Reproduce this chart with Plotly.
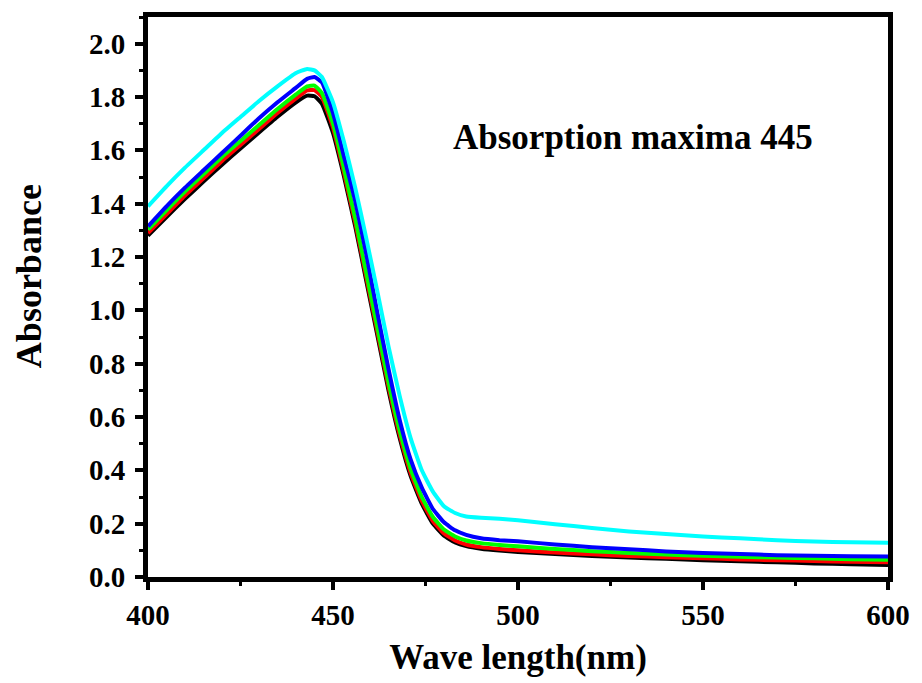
import plotly.graph_objects as go

wavelength = [400, 405, 410, 415, 420, 425, 430, 435, 440, 443, 445, 447, 450, 453, 456, 459,
              462, 465, 468, 471, 474, 477, 480, 483, 486, 490, 495, 500, 510, 520, 530, 540,
              550, 560, 570, 580, 590, 600]

black = [1.28, 1.35, 1.418, 1.483, 1.546, 1.607, 1.667, 1.726, 1.78, 1.805, 1.803, 1.775, 1.665,
         1.50, 1.315, 1.11, 0.905, 0.70, 0.522, 0.378, 0.275, 0.2, 0.155, 0.13, 0.116, 0.106,
         0.099, 0.094, 0.086, 0.079, 0.073, 0.068, 0.063, 0.059, 0.055, 0.051, 0.048, 0.045]
red = [1.29, 1.36, 1.43, 1.495, 1.56, 1.62, 1.68, 1.74, 1.795, 1.825, 1.826, 1.80, 1.685,
       1.515, 1.33, 1.125, 0.92, 0.715, 0.535, 0.39, 0.285, 0.21, 0.163, 0.137, 0.122, 0.112,
       0.105, 0.1, 0.092, 0.085, 0.079, 0.074, 0.07, 0.066, 0.063, 0.06, 0.057, 0.055]
green = [1.303, 1.375, 1.445, 1.51, 1.575, 1.635, 1.695, 1.755, 1.81, 1.84, 1.843, 1.815, 1.70,
         1.53, 1.345, 1.14, 0.935, 0.73, 0.55, 0.405, 0.30, 0.225, 0.178, 0.152, 0.137, 0.127,
         0.12, 0.115, 0.105, 0.097, 0.09, 0.084, 0.08, 0.076, 0.073, 0.07, 0.067, 0.065]
blue = [1.315, 1.39, 1.46, 1.525, 1.59, 1.655, 1.72, 1.78, 1.835, 1.868, 1.875, 1.855, 1.74,
        1.575, 1.41, 1.21, 0.99, 0.78, 0.59, 0.44, 0.335, 0.255, 0.205, 0.175, 0.158, 0.145,
        0.138, 0.134, 0.122, 0.112, 0.104, 0.096, 0.09, 0.086, 0.082, 0.08, 0.078, 0.077]
cyan = [1.39, 1.465, 1.535, 1.60, 1.665, 1.725, 1.785, 1.84, 1.89, 1.905, 1.90, 1.875, 1.78,
        1.63, 1.46, 1.27, 1.07, 0.865, 0.68, 0.52, 0.40, 0.32, 0.265, 0.24, 0.227, 0.222,
        0.218, 0.213, 0.198, 0.184, 0.171, 0.161, 0.152, 0.145, 0.138, 0.133, 0.13, 0.128]

series = [("black", black, "#000000"), ("red", red, "#ff0000"), ("green", green, "#00ff00"),
          ("blue", blue, "#0000ff"), ("cyan", cyan, "#00ffff")]

x_ticks = [400, 450, 500, 550, 600]
y_ticks = [0.0, 0.2, 0.4, 0.6, 0.8, 1.0, 1.2, 1.4, 1.6, 1.8, 2.0]

FONT = "Liberation Serif"

fig = go.Figure()
for name, vals, col in series:
    fig.add_trace(go.Scatter(x=wavelength, y=vals, mode="lines", name=name,
                             line=dict(color=col, width=4, shape="spline", smoothing=0.4),
                             showlegend=False))

axis_common = dict(showline=True, linecolor="black", linewidth=5, mirror=True,
                   ticks="outside", ticklen=8, tickwidth=4, tickcolor="black",
                   showgrid=False, zeroline=False,
                   tickfont=dict(family=FONT, size=29, color="black"))

fig.update_xaxes(range=[400, 600], tickvals=x_ticks, ticktext=[f"<b>{v}</b>" for v in x_ticks],
                 minor=dict(ticks="outside", ticklen=4, tickwidth=3, tickcolor="black", dtick=25),
                 title=dict(text="<b>Wave length(nm)</b>", standoff=16,
                            font=dict(family=FONT, size=35, color="black")),
                 **axis_common)
fig.update_yaxes(range=[0, 2.1], tickvals=y_ticks, ticktext=[f"<b>{v:.1f}</b>" for v in y_ticks],
                 minor=dict(ticks="outside", ticklen=4, tickwidth=3, tickcolor="black", dtick=0.1),
                 ticklabelstandoff=4,
                 **axis_common)

fig.add_annotation(text="<b>Absorbance</b>", x=-0.161, y=0.537, xref="paper", yref="paper",
                   textangle=-90, showarrow=False, xanchor="center", yanchor="middle",
                   font=dict(family=FONT, size=36, color="black"))

fig.add_annotation(text="<b>Absorption maxima 445</b>", x=0.656, y=0.784, xref="paper", yref="paper",
                   showarrow=False, xanchor="center", yanchor="middle",
                   font=dict(family=FONT, size=35, color="black"))

fig.update_layout(width=922, height=683, margin=dict(l=148, r=30, t=14, b=105),
                  plot_bgcolor="white", paper_bgcolor="white")

fig.write_html("out.html")
